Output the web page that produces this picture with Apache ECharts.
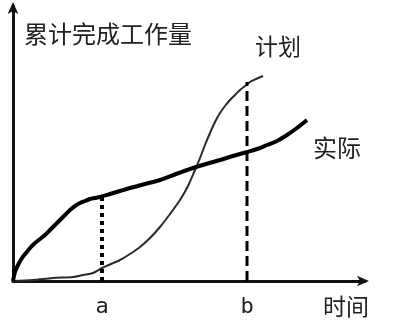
<!DOCTYPE html>
<html><head><meta charset="utf-8">
<script src="https://cdn.jsdelivr.net/npm/echarts@6/dist/echarts.min.js"></script>
<style>html,body{margin:0;padding:0;background:#fff}#c{width:415px;height:325px}</style>
</head><body><div id="c"></div>
<script>
// Time (x) and cumulative work (y), in units
const actualX = [0, 2, 5, 9, 13, 17, 22, 27, 32, 37, 42, 47, 52, 57, 62, 67, 72, 77, 82, 87, 97, 107, 117, 132, 147, 163, 180, 193, 207, 220, 234, 244, 254, 264, 274, 284, 294];
const actualY = [0, 9, 16, 23, 28, 33, 38, 42, 46, 51, 56, 61, 66, 71, 75, 78, 80, 82, 83, 84, 87, 90, 93, 97, 101, 107, 113, 117, 121, 125, 129, 132, 136, 140, 146, 153, 161];
const planX = [0, 20, 40, 60, 70, 80, 89, 98, 107, 117, 127, 137, 147, 157, 167, 175, 182, 187, 192, 197, 202, 207, 212, 217, 222, 227, 232, 237, 243, 250];
const planY = [0, 1, 3, 4, 6, 8, 13, 17, 21, 27, 34, 43, 54, 67, 81, 95, 111, 123, 136, 148, 159, 168, 175, 181, 186, 191, 195, 199, 202, 205];
const tickValues = [89, 234];
const tickLabels = ['a', 'b'];
const aTop = 84;   // actual at a
const bTop = 199;  // plan at b
const seriesNames = ['计划', '实际'];
const xName = '时间';
const yName = '累计完成工作量';

const zip = (xs, ys) => xs.map((x, i) => [x, ys[i]]);
const cjk = '"Noto Sans CJK SC", sans-serif';

const chart = echarts.init(document.getElementById('c'));
chart.setOption({
  animation: false,
  backgroundColor: '#fff',
  grid: { left: 13, right: 50, top: 6, bottom: 44 },
  xAxis: {
    type: 'value', min: 0, max: 352,
    splitLine: { show: false },
    axisLine: { lineStyle: { color: '#111', width: 3 }, symbol: ['none', 'arrow'], symbolSize: [8, 12], symbolOffset: [0, 4] },
    axisTick: { show: false },
    axisLabel: {
      customValues: tickValues,
      formatter: v => tickLabels[tickValues.indexOf(v)] || '',
      fontFamily: '"DejaVu Sans Mono", monospace', fontSize: 22, color: '#222', margin: 15
    },
    name: xName, nameLocation: 'end', nameGap: -42,
    nameTextStyle: { fontFamily: cjk, fontSize: 23, color: '#222', verticalAlign: 'top', align: 'left', padding: [14, 0, 0, 0] }
  },
  yAxis: {
    type: 'value', min: 0, max: 275,
    splitLine: { show: false },
    axisLine: { lineStyle: { color: '#111', width: 3 }, symbol: ['none', 'arrow'], symbolSize: [8, 12], symbolOffset: [0, 4] },
    axisTick: { show: false },
    axisLabel: { show: false },
    name: yName, nameLocation: 'end', nameGap: -16,
    nameTextStyle: { fontFamily: cjk, fontSize: 24, color: '#222', align: 'left', verticalAlign: 'top', padding: [0, 0, 0, 11] }
  },
  series: [
    {
      name: seriesNames[0], type: 'line', smooth: 0.3, symbol: 'none',
      data: zip(planX, planY),
      lineStyle: { color: '#2a2a2a', width: 2 },
      endLabel: { show: true, formatter: '{a}', fontFamily: cjk, fontSize: 23, color: '#222', offset: [-16, -30] }
    },
    {
      name: seriesNames[1], type: 'line', smooth: 0.3, symbol: 'none',
      data: zip(actualX, actualY),
      lineStyle: { color: '#000', width: 4 },
      endLabel: { show: true, formatter: '{a}', fontFamily: cjk, fontSize: 24, color: '#222', offset: [-2, 28] }
    },
    {
      type: 'line', symbol: 'none', silent: true,
      data: [[tickValues[0], 0], [tickValues[0], aTop]],
      lineStyle: { color: '#000', width: 4, type: [4, 4] }
    },
    {
      type: 'line', symbol: 'none', silent: true,
      data: [[tickValues[1], 0], [tickValues[1], bTop]],
      lineStyle: { color: '#000', width: 3, type: [10, 5] }
    }
  ]
});
</script></body></html>
